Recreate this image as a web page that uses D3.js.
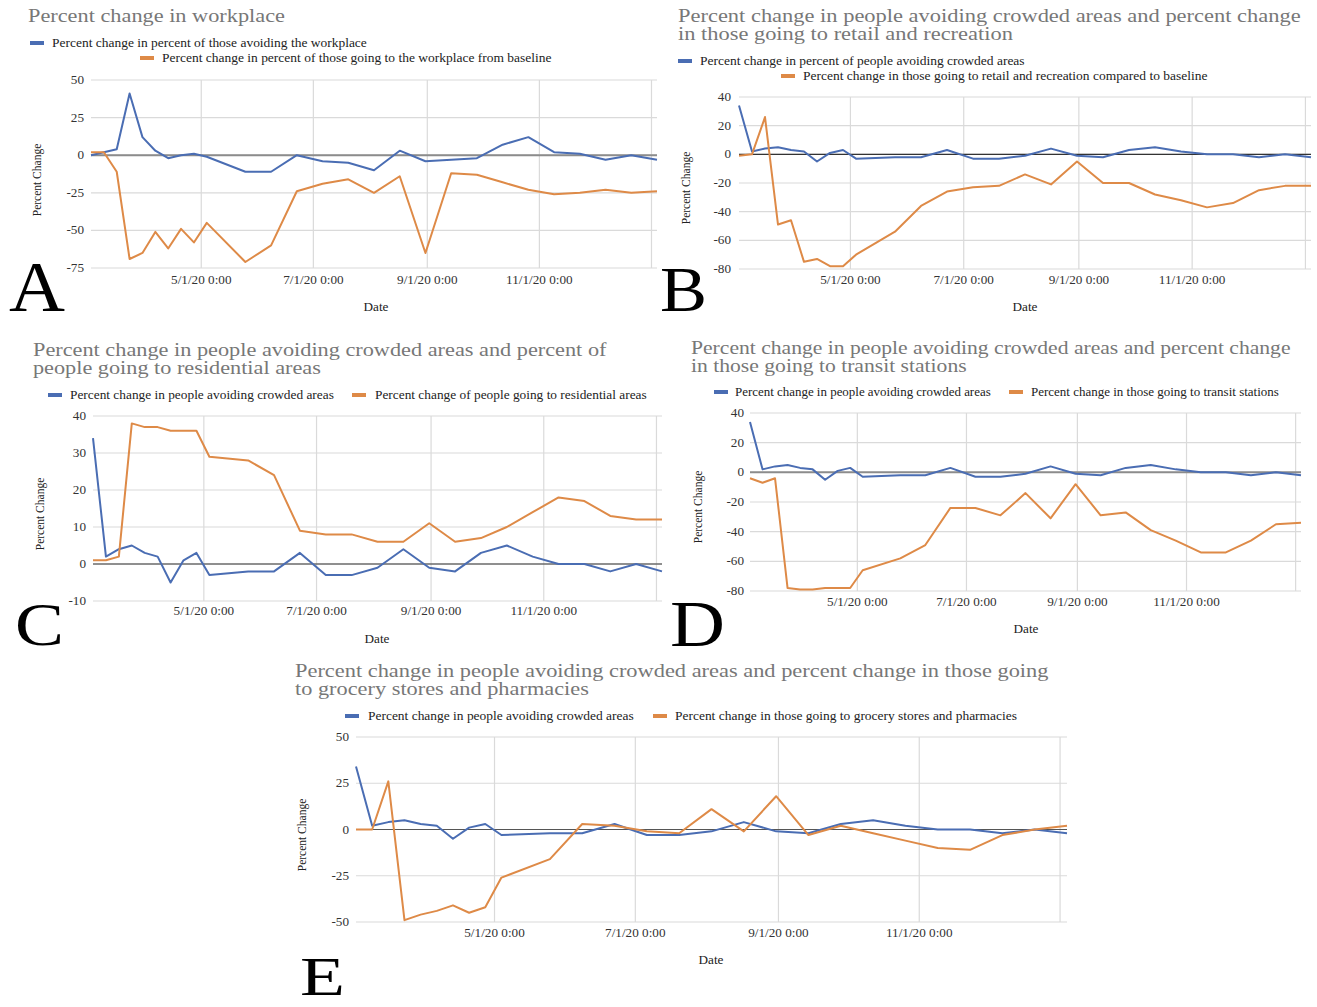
<!DOCTYPE html>
<html>
<head>
<meta charset="utf-8">
<script src="https://cdn.jsdelivr.net/npm/d3@7"></script>
<style>
    body { margin: 0; background: #fff; }
    svg { display: block; font-family: "Liberation Serif", "DejaVu Serif", serif; }
</style>
</head>
<body>
<svg id="chart" width="1317" height="1007"></svg>
<script>
// ============================================================================
// DATA
// ============================================================================

var DATES = ["2020-03-02", "2020-03-09", "2020-03-16", "2020-03-23", "2020-03-30", "2020-04-06",
    "2020-04-13", "2020-04-20", "2020-04-27", "2020-05-04", "2020-05-25", "2020-06-08", "2020-06-22",
    "2020-07-06", "2020-07-20", "2020-08-03", "2020-08-17", "2020-08-31", "2020-09-14", "2020-09-28",
    "2020-10-12", "2020-10-26", "2020-11-09", "2020-11-23", "2020-12-07", "2020-12-21", "2021-01-04"];

var avoidingCrowded   = [34, 2, 4, 5, 3, 2, -5, 1, 3, -3, -2, -2, 3, -3, -3, -1, 4, -1, -2, 3, 5, 2, 0, 0, -2, 0, -2];
var avoidingWorkplace = [0, 2, 4, 41, 12, 3, -2, 0, 1, -1, -11, -11, 0, -4, -5, -10, 3, -4, -3, -2, 7, 12, 2, 1, -3, 0, -3];
var goingWorkplace    = [2, 2, -11, -69, -65, -51, -62, -49, -58, -45, -71, -60, -24, -19, -16, -25, -14, -65, -12, -13, -18, -23, -26, -25, -23, -25, -24];
var goingRetail       = [-1, 0, 26, -49, -46, -75, -73, -78, -78, -70, -54, -36, -26, -23, -22, -14, -21, -5, -20, -20, -28, -32, -37, -34, -25, -22, -22];
var goingResidential  = [1, 1, 2, 38, 37, 37, 36, 36, 36, 29, 28, 24, 9, 8, 8, 6, 6, 11, 6, 7, 10, 14, 18, 17, 13, 12, 12];
var goingTransit      = [-4, -7, -4, -78, -79, -79, -78, -78, -78, -66, -58, -49, -24, -24, -29, -14, -31, -8, -29, -27, -39, -46, -54, -54, -46, -35, -34];
var goingGrocery      = [0, 0, 26, -49, -46, -44, -41, -45, -42, -26, -16, 3, 2, -1, -2, 11, -1, 18, -3, 2, -2, -6, -10, -11, -3, 0, 2];

var TICKS_A = [-75, -50, -25, 0, 25, 50];
var TICKS_B = [-80, -60, -40, -20, 0, 20, 40];
var TICKS_C = [-10, 0, 10, 20, 30, 40];
var TICKS_D = [-80, -60, -40, -20, 0, 20, 40];
var TICKS_E = [-50, -25, 0, 25, 50];

var TITLE_A = ["Percent change in workplace"];
var TITLE_B = ["Percent change in people avoiding crowded areas and percent change", "in those going to retail and recreation"];
var TITLE_C = ["Percent change in people avoiding crowded areas and percent of", "people going to residential areas"];
var TITLE_D = ["Percent change in people avoiding crowded areas and percent change", "in those going to transit stations"];
var TITLE_E = ["Percent change in people avoiding crowded areas and percent change in those going", "to grocery stores and pharmacies"];

var LEGEND_A = ["Percent change in percent of those avoiding the workplace", "Percent change in percent of those going to the workplace from baseline"];
var LEGEND_B = ["Percent change in percent of people avoiding crowded areas", "Percent change in those going to retail and recreation compared to baseline"];
var LEGEND_C = ["Percent change in people avoiding crowded areas", "Percent change of people going to residential areas"];
var LEGEND_D = ["Percent change in people avoiding crowded areas", "Percent change in those going to transit stations"];
var LEGEND_E = ["Percent change in people avoiding crowded areas", "Percent change in those going to grocery stores and pharmacies"];

var SERIES_COLORS = ["#4a6db3", "#de8a47"];

// ============================================================================
// LAYOUT (pixel placement of each panel)
// ============================================================================

var PANELS = [
    { letter: "A", series: [avoidingWorkplace, goingWorkplace], ticks: TICKS_A, title: TITLE_A, legend: LEGEND_A,
      x0: 91, x1: 657, y0: 80, y1: 268, yLabelX: 84, xLabelY: 284,
      titleX: 28, titleY: [22], titleW: [257],
      legendPos: [{ sw: 30, tx: 52, cy: 43, w: 315 }, { sw: 140, tx: 162, cy: 58, w: 390 }],
      dateX: 376, dateY: 311, pcX: 37, pcY: 180,
      letterX: 9, letterY: 311, letterW: 56, letterSize: 72,
      zeroColor: "#8c8c8c", zeroWidth: 2 },
    { letter: "B", series: [avoidingCrowded, goingRetail], ticks: TICKS_B, title: TITLE_B, legend: LEGEND_B,
      x0: 739, x1: 1311, y0: 97, y1: 269, yLabelX: 731, xLabelY: 284,
      titleX: 678, titleY: [22, 40], titleW: [623, 335],
      legendPos: [{ sw: 678, tx: 700, cy: 61, w: 325 }, { sw: 781, tx: 803, cy: 76, w: 405 }],
      dateX: 1025, dateY: 311, pcX: 686, pcY: 188,
      letterX: 660, letterY: 311, letterW: 47, letterSize: 64,
      zeroColor: "#333", zeroWidth: 1.2 },
    { letter: "C", series: [avoidingCrowded, goingResidential], ticks: TICKS_C, title: TITLE_C, legend: LEGEND_C,
      x0: 93, x1: 662, y0: 416, y1: 601, yLabelX: 86, xLabelY: 615,
      titleX: 33, titleY: [356, 374], titleW: [574, 288],
      legendPos: [{ sw: 48, tx: 70, cy: 395, w: 264 }, { sw: 352, tx: 375, cy: 395, w: 272 }],
      dateX: 377, dateY: 643, pcX: 40, pcY: 514,
      letterX: 15, letterY: 645, letterW: 49, letterSize: 62,
      zeroColor: "#333", zeroWidth: 1.2 },
    { letter: "D", series: [avoidingCrowded, goingTransit], ticks: TICKS_D, title: TITLE_D, legend: LEGEND_D,
      x0: 750, x1: 1301, y0: 413, y1: 591, yLabelX: 744, xLabelY: 606,
      titleX: 691, titleY: [354, 372], titleW: [600, 276],
      legendPos: [{ sw: 714, tx: 735, cy: 392, w: 256 }, { sw: 1009, tx: 1031, cy: 392, w: 248 }],
      dateX: 1026, dateY: 633, pcX: 698, pcY: 507,
      letterX: 670, letterY: 646, letterW: 55, letterSize: 66,
      zeroColor: "#8c8c8c", zeroWidth: 2 },
    { letter: "E", series: [avoidingCrowded, goingGrocery], ticks: TICKS_E, title: TITLE_E, legend: LEGEND_E,
      x0: 356, x1: 1067, y0: 737, y1: 922, yLabelX: 349, xLabelY: 937,
      titleX: 295, titleY: [677, 695], titleW: [754, 294],
      legendPos: [{ sw: 345, tx: 368, cy: 716, w: 266 }, { sw: 653, tx: 675, cy: 716, w: 342 }],
      dateX: 711, dateY: 964, pcX: 302, pcY: 835,
      letterX: 300, letterY: 995, letterW: 45, letterSize: 55,
      zeroColor: "#555", zeroWidth: 1.2 }
];

var svg = d3.select("#chart");
var parseDate = d3.timeParse("%Y-%m-%d");
var dates = DATES.map(parseDate);
var formatTick = d3.timeFormat("%-m/%-d/%y 0:00");

// Text in the scan is a bit wider than the font, so stretch it horizontally
function addText(parent, str, x, y, size, opts) {
    opts = opts || {};
    var g = parent.append("g").attr("transform", "translate(" + x + "," + y + ")");
    var t = g.append("text")
        .text(str)
        .attr("font-size", size)
        .attr("fill", opts.fill || "#222")
        .attr("text-anchor", opts.anchor || "start");
    var sx = opts.sx || 1.1;
    if (opts.width) {
        sx = opts.width / t.node().getComputedTextLength();
    }
    t.attr("transform", "scale(" + sx + ",1)");
    return t;
}

// ============================================================================
// PANEL DRAWING
// ============================================================================

function drawPanel(p) {
    var g = svg.append("g").attr("class", "panel-" + p.letter);

    var x = d3.scaleTime().domain(d3.extent(dates)).range([p.x0, p.x1]);
    var y = d3.scaleLinear().domain(d3.extent(p.ticks)).range([p.y1, p.y0]);

    // Horizontal gridlines
    g.selectAll(".hgrid").data(p.ticks).enter().append("line")
        .attr("class", "hgrid")
        .attr("x1", p.x0).attr("x2", p.x1)
        .attr("y1", function(d) { return y(d); })
        .attr("y2", function(d) { return y(d); })
        .attr("stroke", "#dadada").attr("stroke-width", 1.2);

    // Vertical gridlines every two months
    var xTicks = x.ticks(d3.timeMonth.every(2));
    g.selectAll(".vgrid").data(xTicks).enter().append("line")
        .attr("class", "vgrid")
        .attr("x1", function(d) { return x(d); })
        .attr("x2", function(d) { return x(d); })
        .attr("y1", p.y0).attr("y2", p.y1)
        .attr("stroke", "#dadada").attr("stroke-width", 1.2);

    // Y tick labels
    p.ticks.forEach(function(v) {
        addText(g, String(v), p.yLabelX, y(v) + 4, 12, { anchor: "end", fill: "#333" });
    });

    // X tick labels (last one at the right edge is cut off in the original)
    xTicks.forEach(function(t) {
        if (x(t) > p.x1 - 30) return;
        addText(g, formatTick(t), x(t), p.xLabelY, 12, { anchor: "middle", fill: "#333" });
    });

    // Zero line
    g.append("line")
        .attr("x1", p.x0).attr("x2", p.x1)
        .attr("y1", y(0)).attr("y2", y(0))
        .attr("stroke", p.zeroColor).attr("stroke-width", p.zeroWidth);

    // Series lines
    var line = d3.line()
        .x(function(d, i) { return x(dates[i]); })
        .y(function(d) { return y(d); });

    p.series.forEach(function(values, i) {
        g.append("path")
            .datum(values)
            .attr("d", line)
            .attr("fill", "none")
            .attr("stroke", SERIES_COLORS[i])
            .attr("stroke-width", 2)
            .attr("stroke-linejoin", "round");
    });

    // Title
    p.title.forEach(function(str, i) {
        addText(g, str, p.titleX, p.titleY[i], 18.5, { fill: "#777", width: p.titleW[i] });
    });

    // Legend
    p.legendPos.forEach(function(pos, i) {
        g.append("rect")
            .attr("x", pos.sw).attr("y", pos.cy - 2)
            .attr("width", 14).attr("height", 4)
            .attr("fill", SERIES_COLORS[i]);
        addText(g, p.legend[i], pos.tx, pos.cy + 4, 12, { fill: "#222", width: pos.w });
    });

    // Axis titles
    addText(g, "Date", p.dateX, p.dateY, 12, { anchor: "middle" });
    g.append("text")
        .attr("transform", "translate(" + p.pcX + "," + p.pcY + ") rotate(-90)")
        .attr("text-anchor", "middle")
        .attr("dy", "0.35em")
        .attr("font-size", 11.5)
        .attr("fill", "#222")
        .text("Percent Change");

    // Big panel letter
    addText(g, p.letter, p.letterX, p.letterY, p.letterSize, { fill: "#000", width: p.letterW });
}

PANELS.forEach(drawPanel);
</script>
</body>
</html>
